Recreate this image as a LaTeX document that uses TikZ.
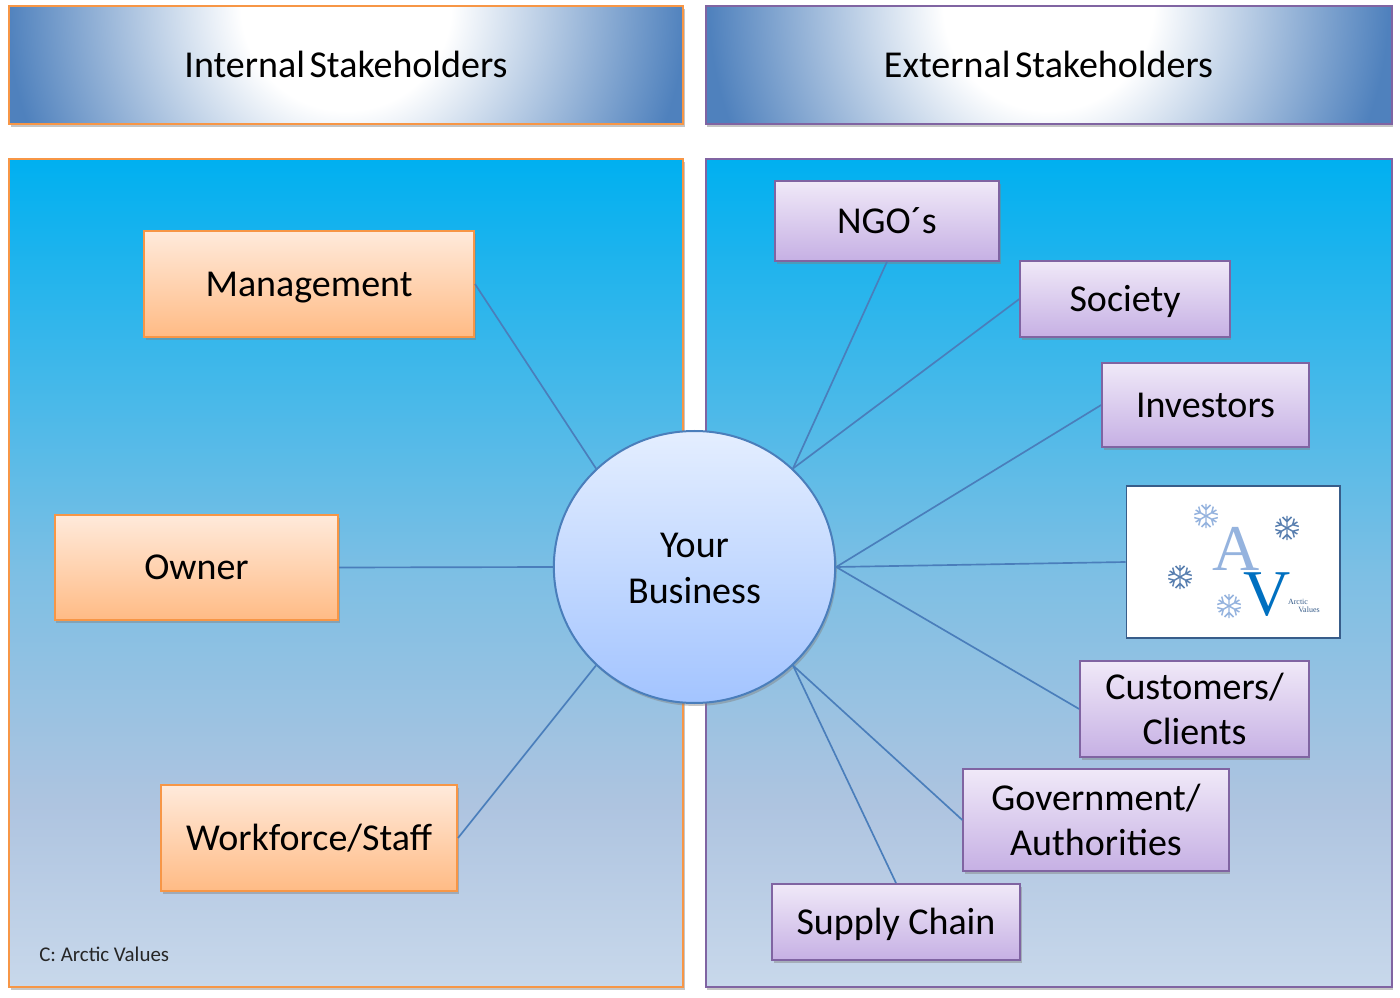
\documentclass[tikz,border=0pt]{standalone}
\usepackage{fontspec}
\setmainfont{Carlito}
\newfontfamily\logofont{Liberation Serif}
\usetikzlibrary{shadows,shapes.geometric}

\definecolor{hdrblue}{HTML}{4F81BD}
\definecolor{orangeline}{HTML}{F79646}
\definecolor{orangetop}{HTML}{FFEADB}
\definecolor{orangebot}{HTML}{FFBB85}
\definecolor{purpleline}{HTML}{8064A2}
\definecolor{purpletop}{HTML}{F0E9F8}
\definecolor{purplebot}{HTML}{C6B0E4}
\definecolor{linkblue}{HTML}{4A7EBB}
\definecolor{paneltop}{HTML}{00B0F0}
\definecolor{panelmid}{HTML}{7DBFE4}
\definecolor{panellow}{HTML}{AEC4E0}
\definecolor{panelbot}{HTML}{C8D8EB}
\definecolor{logoline}{HTML}{385D8A}
\definecolor{logoblue}{HTML}{0070C0}
\definecolor{bizltop}{HTML}{E4EEFF}
\definecolor{bizlbot}{HTML}{A3C4FF}
\definecolor{flakelight}{HTML}{95B3DE}
\definecolor{flakedark}{HTML}{5A80B0}

\pgfdeclareradialshading{hdrshade}{\pgfpoint{0bp}{0bp}}{color(0bp)=(white); color(7.3bp)=(white); color(23.6bp)=(hdrblue); color(50bp)=(hdrblue)}
\pgfdeclareverticalshading{panelshade}{100bp}{color(0bp)=(panelbot); color(25bp)=(panelbot); color(36bp)=(panellow); color(50bp)=(panelmid); color(75bp)=(paneltop); color(100bp)=(paneltop)}

\tikzset{
  softshadow/.style={drop shadow={shadow xshift=1.2pt, shadow yshift=-2.2pt, opacity=.45}},
  oneline/.style={text height=21.5pt, text depth=3pt},
  header/.style={draw=#1, line width=1.5pt, fill=hdrblue, path picture={\shade[shading=hdrshade] ([yshift=45pt]path picture bounding box.center) circle (270pt);}, minimum height=88.5pt, font=\fontsize{28.5}{34}\selectfont, inner sep=0pt, oneline, softshadow},
  panel/.style={draw=#1, line width=1.5pt, shading=panelshade, minimum height=621pt, inner sep=0pt, softshadow},
  ibox/.style={draw=orangeline, line width=1.5pt, top color=orangetop, bottom color=orangebot, font=\fontsize{28.5}{34}\selectfont, inner sep=0pt, oneline, softshadow},
  ebox/.style={draw=purpleline, line width=1.5pt, top color=purpletop, bottom color=purplebot, font=\fontsize{28.5}{34}\selectfont, align=center, inner sep=0pt, softshadow},
  link/.style={draw=linkblue, line width=1.25pt},
  logotext/.style={font=\logofont\fontsize{6}{7}\selectfont, text=logoline, inner sep=0pt},
  flake/.pic={
    \foreach \a in {0,60,...,300} {
      \draw[rotate=\a, line width=1.1pt, pic actions] (0,0) -- (0,12) (-4.5,11) -- (0,6.5) -- (4.5,11);
    }
  },
}

\begin{document}
\begin{tikzpicture}[x=0.75pt, y=-0.75pt]

  \useasboundingbox (0,0) rectangle (1400,998);

  % Headers
  \node[header=orangeline, minimum width=505.5pt] (inthdr) at (346,65.5) {Internal\hspace{-3pt} Stakeholders};
  \node[header=purpleline, minimum width=514.5pt] (exthdr) at (1048.5,65.5) {External\hspace{-3pt} Stakeholders};

  % Panels
  \node[panel=orangeline, minimum width=505.5pt] (intpanel) at (346,573) {};
  \node[panel=purpleline, minimum width=514.5pt] (extpanel) at (1048.5,573) {};
  \node[anchor=west, font=\fontsize{15.7}{18}\selectfont, text=black!85, inner sep=0pt] (credit) at (39,954) {C: Arctic Values};

  % Internal boxes
  \node[ibox, minimum width=247.5pt, minimum height=79pt] (mgmt) at (309,284) {Management};
  \node[ibox, minimum width=212.5pt, minimum height=79pt] (owner) at (196.5,567.5) {Owner};
  \node[ibox, minimum width=222pt, minimum height=79pt] (staff) at (309,838) {Workforce/Staff};

  % External boxes
  \node[ebox, oneline, minimum width=168pt, minimum height=59.5pt] (ngo) at (887,221) {NGO´s};
  \node[ebox, oneline, minimum width=157pt, minimum height=57.5pt] (society) at (1125,299) {Society};
  \node[ebox, oneline, minimum width=155pt, minimum height=63pt] (investors) at (1205.5,405) {Investors};
  \node[ebox, minimum width=171.5pt, minimum height=72pt] (customers) at (1194.5,709) {Customers/\\Clients};
  \node[ebox, minimum width=199pt, minimum height=76pt] (gov) at (1096,820) {Government/\\Authorities};
  \node[ebox, oneline, minimum width=186pt, minimum height=57pt] (supply) at (896,922) {Supply Chain};

  % Logo
  \node[draw=logoline, fill=white, line width=1.25pt, minimum width=160pt, minimum height=114pt, inner sep=0pt] (logo) at (1233,562) {};
  \node[font=\logofont\fontsize{49}{49}\selectfont, text=flakelight, inner sep=0pt] (logoa) at (1236,549) {A};
  \node[font=\logofont\fontsize{49}{49}\selectfont, text=logoblue, inner sep=0pt] (logov) at (1267,595) {V};
  \node[logotext] (logoarctic) at (1298,602) {Arctic};
  \node[logotext] (logovalues) at (1309,610) {Values};
  \pic[draw=flakelight] at (1206,516) {flake};
  \pic[draw=flakedark] at (1287,528) {flake};
  \pic[draw=flakedark] at (1180,577) {flake};
  \pic[draw=flakelight] at (1229,606) {flake};

  % Centre
  \node[ellipse, draw=linkblue, line width=1.5pt, top color=bizltop, bottom color=bizlbot, minimum width=211pt, minimum height=204pt, inner sep=0pt, align=center, font=\fontsize{28.5}{34}\selectfont, softshadow] (biz) at (694.5,567) {\rule{0pt}{20.5pt}Your\\Business};

  % Links
  \draw[link] (mgmt.east) -- (biz.135);
  \draw[link] (owner.east) -- (biz.west);
  \draw[link] (staff.east) -- (biz.225);
  \draw[link] (ngo.south) -- (biz.45);
  \draw[link] (society.west) -- (biz.45);
  \draw[link] (investors.west) -- (biz.east);
  \draw[link] (logo.west) -- (biz.east);
  \draw[link] (customers.west) -- (biz.east);
  \draw[link] (gov.west) -- (biz.-45);
  \draw[link] (supply.north) -- (biz.-45);

\end{tikzpicture}
\end{document}
